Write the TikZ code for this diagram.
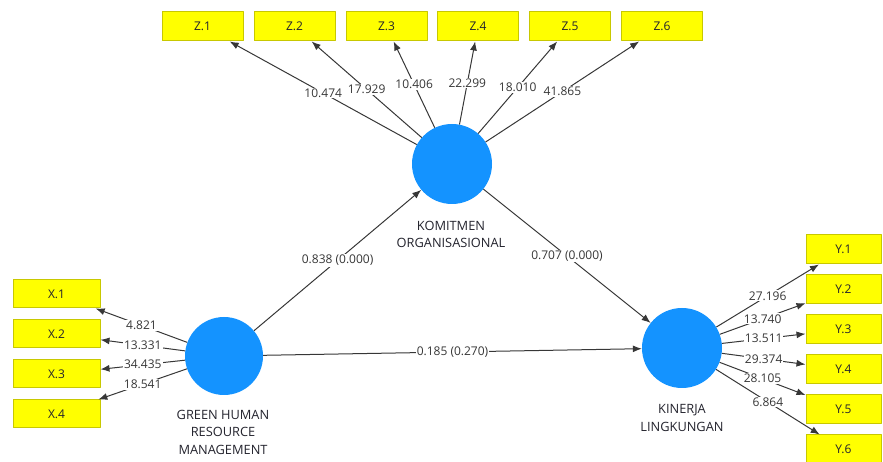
\documentclass[tikz,border=0pt]{standalone}
\usepackage{fontspec}
\setmainfont{Open Sans}
\usetikzlibrary{arrows.meta}
\definecolor{lvblue}{RGB}{20,147,255}
\definecolor{indyellow}{RGB}{255,255,0}
\definecolor{indedge}{RGB}{200,200,0}
\definecolor{pathgray}{RGB}{55,55,55}
\definecolor{txtdark}{RGB}{35,35,45}
\begin{document}
\begin{tikzpicture}[>={Latex[length=9bp,width=7bp]},line join=bevel,
  font=\fontsize{12bp}{17bp}\selectfont,text=txtdark,
  ind/.style={draw=indedge,fill=indyellow,line width=1bp,minimum height=28bp,inner sep=0pt},
  latent/.style={circle,fill=lvblue,inner sep=0pt},
  val/.style={fill=white,inner sep=1bp},
  caption/.style={align=center,inner sep=0pt,font=\fontsize{12.8bp}{17.5bp}\selectfont},
  link/.style={pathgray,line width=1bp,->}]
%%
\useasboundingbox (0bp,0bp) rectangle (883bp,462bp);
\clip (0bp,0bp) rectangle (883bp,462bp);
% latent variables
\node (komitmen) at (452bp,298bp) [latent,minimum size=80bp] {};
  \node (ghrm) at (224bp,106bp) [latent,minimum size=78bp] {};
  \node (kinerja) at (682bp,114bp) [latent,minimum size=80bp] {};
  \node (komitmen_lbl) at (451bp,227.5bp) [caption] {KOMITMEN\\ORGANISASIONAL};
  \node (ghrm_lbl) at (223bp,30bp) [caption] {GREEN HUMAN\\RESOURCE\\MANAGEMENT};
  \node (kinerja_lbl) at (682bp,44bp) [caption] {KINERJA\\LINGKUNGAN};
% indicators
\node (z_1) at (202.5bp,435.5bp) [ind,minimum width=81bp,minimum height=29bp] {Z.1};
  \node (z_2) at (294.5bp,435.5bp) [ind,minimum width=81bp,minimum height=29bp] {Z.2};
  \node (z_3) at (386.5bp,435.5bp) [ind,minimum width=81bp,minimum height=29bp] {Z.3};
  \node (z_4) at (478bp,435.5bp) [ind,minimum width=81bp,minimum height=29bp] {Z.4};
  \node (z_5) at (570bp,435.5bp) [ind,minimum width=81bp,minimum height=29bp] {Z.5};
  \node (z_6) at (662bp,435.5bp) [ind,minimum width=81bp,minimum height=29bp] {Z.6};
  \node (x_1) at (56.5bp,168bp) [ind,minimum width=87bp] {X.1};
  \node (x_2) at (56.5bp,128bp) [ind,minimum width=87bp] {X.2};
  \node (x_3) at (56.5bp,88bp) [ind,minimum width=87bp] {X.3};
  \node (x_4) at (56.5bp,48bp) [ind,minimum width=87bp] {X.4};
  \node (y_1) at (843.5bp,212.5bp) [ind,minimum width=75bp,minimum height=29bp] {Y.1};
  \node (y_2) at (843.5bp,172.5bp) [ind,minimum width=75bp,minimum height=29bp] {Y.2};
  \node (y_3) at (843.5bp,132.5bp) [ind,minimum width=75bp,minimum height=29bp] {Y.3};
  \node (y_4) at (843.5bp,92.5bp) [ind,minimum width=75bp,minimum height=29bp] {Y.4};
  \node (y_5) at (843.5bp,52.5bp) [ind,minimum width=75bp,minimum height=29bp] {Y.5};
  \node (y_6) at (843.5bp,12.5bp) [ind,minimum width=75bp,minimum height=29bp] {Y.6};
% outer loadings
\draw [link] (komitmen) -- node [val] {10.474} (z_1);
  \draw [link] (komitmen) -- node [val] {17.929} (z_2);
  \draw [link] (komitmen) -- node [val] {10.406} (z_3);
  \draw [link] (komitmen) -- node [val] {22.299} (z_4);
  \draw [link] (komitmen) -- node [val] {18.010} (z_5);
  \draw [link] (komitmen) -- node [val] {41.865} (z_6);
  \draw [link] (ghrm) -- node [val] {4.821} (x_1);
  \draw [link] (ghrm) -- node [val] {13.331} (x_2);
  \draw [link] (ghrm) -- node [val] {34.435} (x_3);
  \draw [link] (ghrm) -- node [val] {18.541} (x_4);
  \draw [link] (kinerja) -- node [val] {27.196} (y_1);
  \draw [link] (kinerja) -- node [val] {13.740} (y_2);
  \draw [link] (kinerja) -- node [val] {13.511} (y_3);
  \draw [link] (kinerja) -- node [val] {29.374} (y_4);
  \draw [link] (kinerja) -- node [val] {28.105} (y_5);
  \draw [link] (kinerja) -- node [val] {6.864} (y_6);
% inner model
\draw [link] (ghrm) -- node [val] {0.838 (0.000)} (komitmen);
  \draw [link] (komitmen) -- node [val] {0.707 (0.000)} (kinerja);
  \draw [link] (ghrm) -- node [val] {0.185 (0.270)} (kinerja);
%
\end{tikzpicture}
\end{document}
